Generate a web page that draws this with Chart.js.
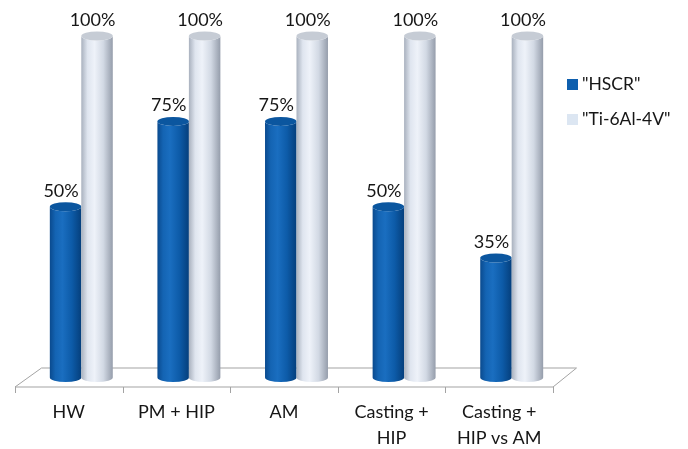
<!DOCTYPE html>
<html>
<head>
<meta charset="utf-8">
<script src="https://cdn.jsdelivr.net/npm/chart.js@4/dist/chart.umd.min.js"></script>
<style>
  html, body { margin: 0; padding: 0; background: #ffffff; overflow: hidden; }
  #chart { display: block; }
</style>
</head>
<body>
<canvas id="chart" width="688" height="449"></canvas>
<script>
// Categories (multi-line labels as arrays)
const categories = ['HW', 'PM + HIP', 'AM', ['Casting +', 'HIP'], ['Casting +', 'HIP vs AM']];

// Series values, in percent
const hscrValues = [50, 75, 75, 50, 35];
const tiValues = [100, 100, 100, 100, 100];

const seriesNames = ['"HSCR"', '"Ti-6Al-4V"'];

const FONT = "Lato, 'Liberation Sans', sans-serif";
const TEXT = '#161616';

// Cylinder shading per series
const cylinderStyles = [
  {
    legend: '#0e5fae',
    body: [[0, '#0a4a8e'], [0.18, '#1464b3'], [0.4, '#1a6ec0'], [0.7, '#0d5ba8'], [1, '#053f7c']],
    top: '#0b569f'
  },
  {
    legend: '#dce6f2',
    body: [[0, '#a9b1be'], [0.2, '#dfe5ef'], [0.42, '#eef2f9'], [0.7, '#d2d9e4'], [1, '#959dab']],
    top: '#c6ccd5'
  }
];

// Depth of the 3D floor and where the bars stand on it
const DEPTH_X = 25, DEPTH_Y = 19;
const STAND_X = 12.5, STAND_Y = 9.5;
const RY = 4.5;

function drawCylinder(ctx, cx, w, yTop, yBot, style) {
  const rx = w / 2;
  const g = ctx.createLinearGradient(cx - rx, 0, cx + rx, 0);
  style.body.forEach(([o, c]) => g.addColorStop(o, c));
  ctx.beginPath();
  ctx.moveTo(cx - rx, yTop);
  ctx.lineTo(cx - rx, yBot);
  ctx.ellipse(cx, yBot, rx, RY, 0, Math.PI, 0, true);
  ctx.lineTo(cx + rx, yTop);
  ctx.ellipse(cx, yTop, rx, RY, 0, 0, Math.PI, false);
  ctx.closePath();
  ctx.fillStyle = g;
  ctx.fill();

  ctx.beginPath();
  ctx.ellipse(cx, yTop, rx, RY, 0, 0, Math.PI * 2);
  ctx.fillStyle = style.top;
  ctx.fill();
}

const cylinderPlugin = {
  id: 'cylinders',
  beforeDatasetsDraw(chart) {
    const ctx = chart.ctx;
    const area = chart.chartArea;
    const left = area.left, right = area.right, front = area.bottom;
    const back = front - DEPTH_Y;

    ctx.save();
    // Floor
    ctx.beginPath();
    ctx.moveTo(left, front);
    ctx.lineTo(right, front);
    ctx.lineTo(right + DEPTH_X - 1.5, back);
    ctx.lineTo(left + DEPTH_X + 1.5, back);
    ctx.closePath();
    ctx.fillStyle = '#ffffff';
    ctx.fill();
    ctx.strokeStyle = '#a3a3a3';
    ctx.lineWidth = 1;
    ctx.stroke();

    // Category separators under the front edge
    const n = categories.length;
    const catW = (right - left) / n;
    ctx.beginPath();
    for (let i = 0; i <= n; i++) {
      const x = Math.round(left + i * catW) + 0.5;
      ctx.moveTo(x, front);
      ctx.lineTo(x, front + 6);
    }
    ctx.stroke();

    // Cylinders
    for (let i = 0; i < n; i++) {
      chart.data.datasets.forEach((ds, di) => {
        const el = chart.getDatasetMeta(di).data[i];
        drawCylinder(ctx, el.x + STAND_X, el.width, el.y - STAND_Y, el.base - STAND_Y, cylinderStyles[di]);
      });
    }

    // Value labels
    ctx.fillStyle = TEXT;
    ctx.font = '18px ' + FONT;
    ctx.textAlign = 'center';
    ctx.textBaseline = 'middle';
    chart.data.datasets.forEach((ds, di) => {
      chart.getDatasetMeta(di).data.forEach((el, i) => {
        ctx.fillText(ds.data[i] + '%', el.x + STAND_X - 4.5, el.y - STAND_Y - 16);
      });
    });

    // Legend
    ctx.textAlign = 'left';
    ctx.font = '17.5px ' + FONT;
    seriesNames.forEach((name, di) => {
      const y = 84.5 + di * 35;
      ctx.fillStyle = cylinderStyles[di].legend;
      ctx.fillRect(567, y - 5.5, 11, 11);
      ctx.fillStyle = TEXT;
      ctx.fillText(name, 582, y);
    });
    ctx.restore();
    return false;
  }
};

new Chart(document.getElementById('chart'), {
  type: 'bar',
  data: {
    labels: categories,
    datasets: [
      { label: seriesNames[0], data: hscrValues, backgroundColor: cylinderStyles[0].legend },
      { label: seriesNames[1], data: tiValues, backgroundColor: cylinderStyles[1].legend }
    ]
  },
  options: {
    responsive: false,
    animation: false,
    devicePixelRatio: 1,
    layout: { padding: { left: 15, right: 135, top: 45.5, bottom: 0 } },
    datasets: { bar: { categoryPercentage: 0.585, barPercentage: 1 } },
    plugins: {
      legend: { display: false },
      tooltip: { enabled: false }
    },
    scales: {
      x: {
        grid: { display: false, drawTicks: false },
        border: { display: false },
        ticks: {
          color: TEXT,
          padding: 13,
          maxRotation: 0,
          autoSkip: false,
          font: { family: FONT, size: 18, lineHeight: 1.4 }
        },
        afterFit(scale) { scale.height = 62; }
      },
      y: { display: false, min: 0, max: 100 }
    }
  },
  plugins: [cylinderPlugin]
});
</script>
</body>
</html>
